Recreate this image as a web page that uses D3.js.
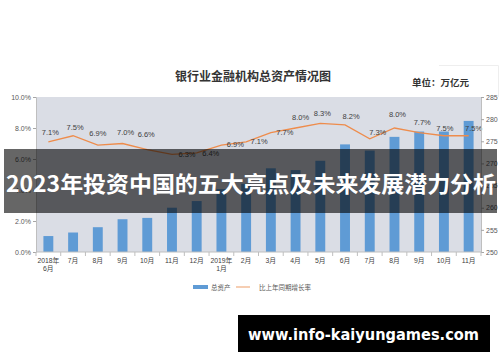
<!DOCTYPE html>
<html>
<head>
<meta charset="utf-8">
<script src="https://cdn.jsdelivr.net/npm/d3@7"></script>
<style>
  body { margin: 0; background: #fff; }
  svg { display: block; font-family: "Liberation Sans", "Noto Sans CJK SC", sans-serif; }
</style>
</head>
<body>
<svg id="chart" width="500" height="362"></svg>
<script>
// data
const months = ["2018年\n6月", "7月", "8月", "9月", "10月", "11月", "12月", "2019年\n1月",
    "2月", "3月", "4月", "5月", "6月", "7月", "8月", "9月", "10月", "11月"]
const totalAssets = [253.6, 254.4, 255.6, 257.4, 257.7, 260.0, 261.5, 264.2, 265.4,
    268.9, 268.5, 270.6, 274.3, 272.9, 276.0, 277.2, 277.2, 279.6]
const growthRate = [7.1, 7.5, 6.9, 7.0, 6.6, 6.3, 6.4, 6.9, 7.1, 7.7, 8.0, 8.3, 8.2, 7.3, 8.0, 7.7, 7.5, 7.5]
const leftTicks = [0, 2, 4, 6, 8, 10]
const rightTicks = [250, 255, 260, 265, 270, 275, 280, 285]

// excel-ish label placement, [dx, dy] from the point
const labelNudge = [[2, -10], [2, -9], [0, -12], [3, -11], [-1, -16], [15, 0], [14, 0], [14, -1],
    [13, -1], [14, 0], [5, -11], [2, -10], [6, -9], [8, -7], [3, -14], [3, -10], [1, -8], [5, -8]]

const svg = d3.select("#chart")
const plot = { left: 36, right: 481, top: 97, bottom: 252 }

// month names repeat, so the band scale runs on the index
const idx = d3.range(months.length)
const x = d3.scaleBand()
    .domain(idx)
    .range([plot.left, plot.right])
    .paddingInner(0.6)
    .paddingOuter(0.3)
const cx = i => x(i) + x.bandwidth() / 2
const yL = d3.scaleLinear().domain([0, 10]).range([plot.bottom, plot.top])
const yR = d3.scaleLinear().domain([250, 285]).range([plot.bottom, plot.top])

const gap = (x.step() - x.bandwidth()) / 2

// title + unit
svg.append("text")
    .attr("x", 253).attr("y", 81)
    .attr("text-anchor", "middle")
    .style("font-family", "'Noto Sans CJK SC'")
    .style("font-size", "12px").style("font-weight", "bold")
    .attr("fill", "#333")
    .text("银行业金融机构总资产情况图")

svg.append("path")
    .attr("d", "M439,65.5H498.5V97")
    .attr("fill", "none").attr("stroke", "#eee")

svg.append("text")
    .attr("x", 412).attr("y", 86)
    .style("font-family", "'Noto Sans CJK SC'")
    .style("font-size", "9.5px").style("font-weight", "bold")
    .attr("fill", "#333")
    .text("单位：万亿元")

// plot background
svg.append("rect")
    .attr("x", plot.left).attr("y", plot.top)
    .attr("width", plot.right - plot.left).attr("height", plot.bottom - plot.top)
    .attr("fill", "#dadde5")

// bars
svg.append("g").selectAll("rect")
    .data(totalAssets)
    .join("rect")
    .attr("x", (d, i) => x(i))
    .attr("y", d => yR(d))
    .attr("width", x.bandwidth())
    .attr("height", d => plot.bottom - yR(d))
    .attr("fill", "#5f9bd5")

// growth line
const line = d3.line()
    .x((d, i) => cx(i))
    .y(d => yL(d))

svg.append("path")
    .datum(growthRate)
    .attr("d", line)
    .attr("fill", "none")
    .attr("stroke", "#ee8c4c")
    .attr("stroke-width", 1.3)

svg.append("g").selectAll("text")
    .data(growthRate)
    .join("text")
    .attr("x", (d, i) => cx(i) + labelNudge[i][0])
    .attr("y", (d, i) => yL(d) + labelNudge[i][1] + 2.8)
    .attr("text-anchor", "middle")
    .style("font-size", "7.5px")
    .attr("fill", "#404040")
    .text(d => d.toFixed(1) + "%")

// left axis
const axisL = svg.append("g").attr("transform", `translate(${plot.left},0)`)
    .call(d3.axisLeft(yL).tickValues(leftTicks).tickSize(3).tickFormat(d => d.toFixed(1) + "%"))
axisL.select(".domain").attr("stroke", "#bfbfbf")
axisL.selectAll(".tick line").attr("stroke", "#a6a6a6")
axisL.selectAll(".tick text")
    .attr("x", -5)
    .style("font-size", "7px").style("font-family", "'Liberation Sans'")
    .attr("fill", "#595959")

// right axis
const axisR = svg.append("g").attr("transform", `translate(${plot.right},0)`)
    .call(d3.axisRight(yR).tickValues(rightTicks).tickSize(3))
axisR.select(".domain").attr("stroke", "#bfbfbf")
axisR.selectAll(".tick line").attr("stroke", "#a6a6a6")
axisR.selectAll(".tick text")
    .attr("x", 5)
    .style("font-size", "7px").style("font-family", "'Liberation Sans'")
    .attr("fill", "#595959")

// x axis
const axisX = svg.append("g")
axisX.append("line")
    .attr("x1", plot.left).attr("x2", plot.right)
    .attr("y1", plot.bottom).attr("y2", plot.bottom)
    .attr("stroke", "#bfbfbf")
axisX.selectAll(".xtick")
    .data(d3.range(months.length + 1))
    .join("line")
    .attr("class", "xtick")
    .attr("x1", i => plot.left + i * x.step())
    .attr("x2", i => plot.left + i * x.step())
    .attr("y1", plot.bottom).attr("y2", plot.bottom + 4)
    .attr("stroke", "#bfbfbf")

axisX.selectAll(".xLabel")
    .data(idx)
    .join("text")
    .attr("class", "xLabel")
    .attr("y", 263)
    .attr("text-anchor", "middle")
    .style("font-size", "6.8px")
    .attr("fill", "#404040")
    .selectAll("tspan")
    .data(i => months[i].split("\n").map(t => ({ t, i })))
    .join("tspan")
    .attr("x", d => cx(d.i))
    .attr("dy", (d, k) => k ? 8 : 0)
    .text(d => d.t)

// legend
const legend = svg.append("g")
legend.append("rect")
    .attr("x", 193).attr("y", 285).attr("width", 15).attr("height", 4)
    .attr("fill", "#5f9bd5")
legend.append("text")
    .attr("x", 211).attr("y", 289.5)
    .style("font-size", "6.5px").attr("fill", "#595959")
    .text("总资产")
legend.append("line")
    .attr("x1", 236).attr("x2", 250).attr("y1", 287).attr("y2", 287)
    .attr("stroke", "#f2b48a").attr("stroke-width", 1.3)
legend.append("text")
    .attr("x", 259).attr("y", 289.5)
    .style("font-size", "6.5px").attr("fill", "#595959")
    .text("比上年同期增长率")

// banner overlay
svg.append("rect")
    .attr("x", 4).attr("y", 149).attr("width", 493).attr("height", 64)
    .attr("fill", "rgba(0,0,0,0.6)")
svg.append("text")
    .attr("x", 251).attr("y", 192)
    .attr("text-anchor", "middle")
    .attr("textLength", 490).attr("lengthAdjust", "spacingAndGlyphs")
    .style("font-family", "'Noto Sans CJK SC'")
    .style("font-size", "22px").style("font-weight", "bold")
    .attr("fill", "#fff")
    .text("2023年投资中国的五大亮点及未来发展潜力分析")

// url box
svg.append("rect")
    .attr("x", 238).attr("y", 315).attr("width", 252).attr("height", 37)
    .attr("fill", "#000")
svg.append("text")
    .attr("x", 248).attr("y", 339.5)
    .attr("textLength", 231).attr("lengthAdjust", "spacingAndGlyphs")
    .style("font-family", "'DejaVu Sans'")
    .style("font-size", "15px").style("font-weight", "bold")
    .attr("fill", "#fff")
    .text("www.info-kaiyungames.com")
</script>
</body>
</html>
